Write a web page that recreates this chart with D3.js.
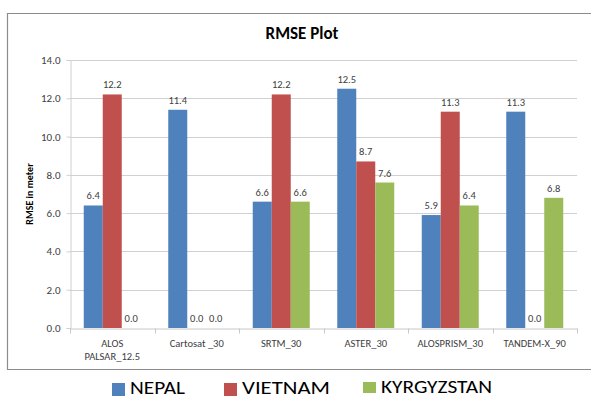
<!DOCTYPE html>
<html><head><meta charset="utf-8">
<script src="https://cdn.jsdelivr.net/npm/d3@7"></script>
<style>body{margin:0;background:#fff}svg{display:block}</style>
</head><body>
<script>
const categories = ["ALOS PALSAR_12.5","Cartosat _30","SRTM_30","ASTER_30","ALOSPRISM_30","TANDEM-X_90"];
const seriesNames = ["NEPAL","VIETNAM","KYRGYZSTAN"];
const nepal = [6.4, 11.4, 6.6, 12.5, 5.9, 11.3];
const vietnam = [12.2, 0.0, 12.2, 8.7, 11.3, 0.0];
const kyrgyzstan = [0.0, 0.0, 6.6, 7.6, 6.4, 6.8];
const yTicks = [0,2,4,6,8,10,12,14];
const colors = ["#4F81BD","#C0504D","#9BBB59"];
const seriesValues = [nepal, vietnam, kyrgyzstan];

(function(){
const W=591,H=400;
const svg=d3.select("body").append("svg").attr("width",W).attr("height",H);
const font="Calibri, Carlito, 'Open Sans', 'Liberation Sans', sans-serif";

// frame
svg.append("path").attr("d","M591,13.5 H7.5 V369.5 H591").attr("fill","none").attr("stroke","#8c8c8c").attr("stroke-width",1.2);

const pl=70,pr=577,pt=60,pb=328;
const x=d3.scaleBand().domain(categories).range([pl,pr]).paddingInner(0).paddingOuter(0);
const catW=x.bandwidth();
const barW=19;
const xs=d3.scaleBand().domain(seriesNames).range([(catW-3*barW)/2,(catW+3*barW)/2]);
const y=d3.scaleLinear().domain([0,14]).range([pb,pt]);

// gridlines
svg.append("g").selectAll("line").data(yTicks.filter(d=>d>0)).join("line")
 .attr("x1",pl).attr("x2",pr).attr("y1",d=>Math.round(y(d))+0.5).attr("y2",d=>Math.round(y(d))+0.5)
 .attr("stroke","#d0d0d0").attr("stroke-width",1);

// y axis
const ya=svg.append("g").attr("transform",`translate(${pl+0.5},0)`)
 .call(d3.axisLeft(y).tickValues(yTicks).tickFormat(d3.format(".1f")).tickSize(4).tickPadding(6));
ya.select(".domain").attr("stroke","#d0d0d0");
ya.selectAll(".tick line").attr("stroke","#d0d0d0");
ya.selectAll("text").attr("font-family",font).attr("font-size",11).attr("fill","#404040");

// bars
const groups=svg.append("g").selectAll("g").data(categories).join("g")
 .attr("transform",d=>`translate(${x(d)},0)`);
groups.each(function(c,i){
  const g=d3.select(this);
  seriesValues.forEach((vals,s)=>{
    const v=vals[i];
    const bx=xs(seriesNames[s]);
    g.append("rect").attr("x",bx).attr("width",xs.bandwidth()).attr("y",y(v)).attr("height",pb-y(v)).attr("fill",colors[s]);
    g.append("text").attr("x",bx+xs.bandwidth()/2).attr("y",y(v)-6).attr("text-anchor","middle")
     .attr("font-family",font).attr("font-size",10.5).attr("fill","#404040").text(d3.format(".1f")(v));
  });
});

// x axis
const xa=svg.append("g").attr("transform",`translate(0,${pb+0.5})`)
 .call(d3.axisBottom(x).tickSize(0).tickFormat(""));
xa.select(".domain").attr("stroke","#c8c8c8");
xa.selectAll(".tick").remove();
const bounds=[...categories.map(c=>x(c)),pr];
xa.append("g").selectAll("line").data(bounds).join("line")
 .attr("x1",d=>Math.round(d)+0.5).attr("x2",d=>Math.round(d)+0.5).attr("y1",0).attr("y2",5).attr("stroke","#c8c8c8");
// category labels
svg.append("g").selectAll("text").data(categories).join("text")
 .attr("x",d=>x(d)+catW/2).attr("y",347).attr("text-anchor","middle")
 .attr("font-family",font).attr("font-size",10.5).attr("fill","#404040")
 .each(function(d){
   const t=d3.select(this);
   if(d==="ALOS PALSAR_12.5"){
     t.append("tspan").attr("x",x(d)+catW/2).attr("dy",0).text("ALOS");
     t.append("tspan").attr("x",x(d)+catW/2).attr("dy",13).text("PALSAR_12.5");
   } else t.text(d);
 });

// title
svg.append("text").attr("x",302).attr("y",39).attr("text-anchor","middle")
 .attr("font-family",font).attr("font-weight","bold").attr("font-size",17).attr("fill","#000").text("RMSE Plot");
// y title
svg.append("text").attr("transform","translate(33,194) rotate(-90)").attr("text-anchor","middle")
 .attr("font-family",font).attr("font-weight","bold").attr("font-size",10).attr("fill","#000").text("RMSE in meter");

// legend
const legX=[112,224,363], legTW=[55,88,111], legY=[383,383,382];
const leg=svg.append("g").selectAll("g").data(seriesNames).join("g");
leg.append("rect").attr("x",(d,i)=>legX[i]).attr("y",(d,i)=>legY[i]).attr("width",13).attr("height",(d,i)=>i===2?11:13).attr("fill",(d,i)=>colors[i]);
leg.append("text").attr("x",(d,i)=>legX[i]+18).attr("y",(d,i)=>i===2?393:394)
 .attr("font-family",font).attr("font-size",18).attr("fill","#000")
 .attr("textLength",(d,i)=>legTW[i]).attr("lengthAdjust","spacingAndGlyphs").text(d=>d);
})();
</script>
</body></html>
